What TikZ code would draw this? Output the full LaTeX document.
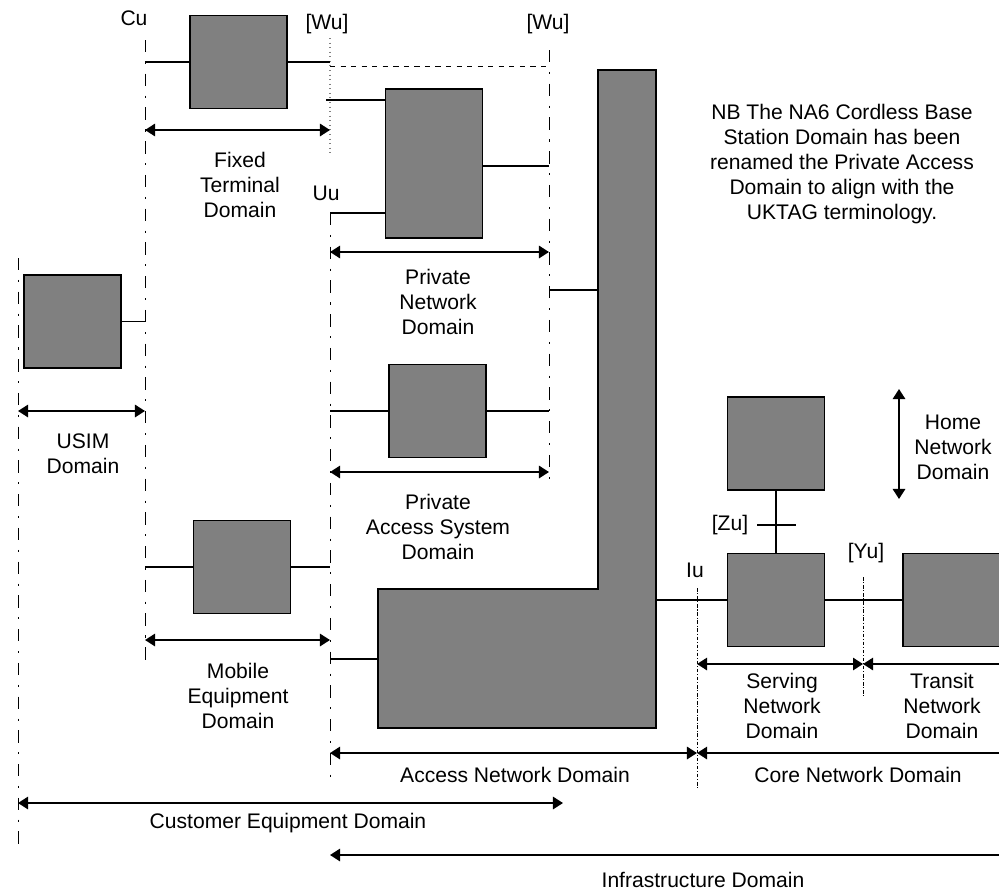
\documentclass[tikz,border=0pt]{standalone}
\usepackage{fontspec}
\setmainfont{Liberation Sans}
\usetikzlibrary{positioning,calc,arrows.meta}
\definecolor{boxgray}{RGB}{128,128,128}
\tikzset{
blk/.style={draw,fill=boxgray,line width=1.1pt,inner sep=0pt,
  minimum width=1.94cm,minimum height=1.86cm},
lnk/.style={line width=0.8pt},
ifc/.style={line width=0.55pt,dash pattern=on 7pt off 5.5pt on 1.2pt off 5.5pt},
ifs/.style={line width=0.4pt,dash pattern=on 2pt off 1pt on 0.6pt off 1pt},
dom/.style={align=center,inner sep=0pt},
tipl/.style={line width=1.1pt},
both/.style={tipl,{Triangle[length=5.7pt,width=7pt]}-{Triangle[length=5.7pt,width=7pt]}},
lft/.style={tipl,{Triangle[length=5.7pt,width=7pt]}-},
}

\begin{document}
\begin{tikzpicture}[x=0.02cm,y=-0.02cm,font=\fontsize{12}{14.2}\selectfont]
	\useasboundingbox (0,0) rectangle (999,893);

	% interface lines
	\coordinate (usimT) at (18,258);  \coordinate (usimB) at (18,848);
	\coordinate (cuT) at (145,40);    \coordinate (cuB) at (145,665);
	\coordinate (wuT) at (330,38);    \coordinate (wuB) at (330,155);
	\coordinate (uuT) at (330,213);   \coordinate (uuB) at (330,780);
	\coordinate (wrT) at (549,50);    \coordinate (wrB) at (549,487);
	\coordinate (iuT) at (697,588);   \coordinate (iuB) at (697,790);
	\coordinate (yuT) at (863,577);   \coordinate (yuB) at (863,698);
	\coordinate (eR) at (1000,0);

	\draw[ifc] (usimT) -- (usimB) (cuT) -- (cuB) (uuT) -- (uuB) (wrT) -- (wrB);
	\draw[gray,dotted,line width=0.6pt] (wuT) -- (wuB);
	\draw[ifs] (iuT) -- (iuB) (yuT) -- (yuB);
	\coordinate (wuH) at (330,66);
	\draw[dashed,line width=0.5pt] (wuH) -- (wuH -| wrT);

	\node (cu) at (134,18) {Cu};
	\node (wu1) at (327,24) {[Wu]};
	\node (wu2) at (548,24) {[Wu]};
	\node (uu) at (326,193) {Uu};
	\node (iu) at (695,570) {Iu};
	\node (yu) at (866,553) {[Yu]};
	\node (zu) at (730,525) {[Zu]};

	% boxes
	\node[blk] (fixterm) at (238.5,62) {};
	\node[blk,minimum height=2.98cm] (privnet) at (434,163.5) {};
	\node[blk] (usim) at (72.5,321.5) {};
	\node[blk] (privacc) at (437.5,411) {};
	\node[blk] (mobeq) at (242,567) {};
	\node[blk] (home) at (776,443.5) {};
	\node[blk] (serving) at (776,600) {};
	\node[blk,minimum width=2.1cm] (transit) at (955.5,600) {};

	\coordinate (accIn) at (378,589);
	\coordinate (accTL) at (598,70);
	\coordinate (accBR) at (656,728);
	\draw[fill=boxgray,line width=1.1pt] (accIn) -- (accIn -| accTL) -- (accTL)
		-- (accTL -| accBR) -- (accBR) -- (accBR -| accIn) -- cycle;

	% links
	\coordinate (pn1) at (326,100);
	\coordinate (pn3) at (549,166);
	\coordinate (ac1) at (549,290);
	\coordinate (ac2) at (330,659);
	\draw[lnk] (cuT |- fixterm) -- (fixterm) -- (wuT |- fixterm);
	\draw[lnk] (pn1) -- (pn1 -| privnet.west);
	\draw[lnk] (uuT) -- (uuT -| privnet.west);
	\draw[lnk] (privnet.east |- pn3) -- (pn3);
	\draw[lnk] (usim) -- (cuT |- usim);
	\draw[lnk] (uuT |- privacc) -- (privacc) -- (wrT |- privacc);
	\draw[lnk] (cuT |- mobeq) -- (mobeq) -- (uuT |- mobeq);
	\draw[lnk] (ac1) -- (ac1 -| accTL);
	\draw[lnk] (ac2) -- (ac2 -| accIn);
	\draw[lnk] (accBR |- serving) -- (serving) -- (transit);
	\draw[lnk] (home) -- (serving);
	\coordinate (zuk) at (776,525);
	\draw[lnk] (zuk) ++(-19,0) -- ++(39,0);

	% domain spans
	\coordinate (rFix) at (0,130);
	\coordinate (rPN) at (0,252);
	\coordinate (rUS) at (0,411);
	\coordinate (rPA) at (0,472);
	\coordinate (rME) at (0,640);
	\coordinate (rSN) at (0,664);
	\coordinate (rAN) at (0,753);
	\coordinate (rCE) at (0,803);
	\coordinate (rIN) at (0,855);
	\coordinate (ceEnd) at (563,803);
	\coordinate (hnT) at (899,389);
	\coordinate (hnB) at (899,499);
	\draw[both] (cuT |- rFix) -- (wuT |- rFix);
	\draw[both] (uuT |- rPN) -- (wrT |- rPN);
	\draw[both] (usimT |- rUS) -- (cuT |- rUS);
	\draw[both] (uuT |- rPA) -- (wrT |- rPA);
	\draw[both] (cuT |- rME) -- (uuT |- rME);
	\draw[both] (iuT |- rSN) -- (yuT |- rSN);
	\draw[lft] (yuT |- rSN) -- (eR |- rSN);
	\draw[both] (uuT |- rAN) -- (iuT |- rAN);
	\draw[lft] (iuT |- rAN) -- (eR |- rAN);
	\draw[both] (usimT |- rCE) -- (ceEnd);
	\draw[lft] (uuT |- rIN) -- (eR |- rIN);
	\draw[both] (hnT) -- (hnB);

	\node[dom] (fixtermD) at (240,185) {Fixed\\Terminal\\Domain};
	\node[dom] (privnetD) at (438,302) {Private\\Network\\Domain};
	\node[dom] (privaccD) at (438,527) {Private\\Access System\\Domain};
	\node[dom] (usimD) at (83,454) {USIM\\Domain};
	\node[dom] (mobeqD) at (238,696) {Mobile\\Equipment\\Domain};
	\node[dom] (servingD) at (782,706) {Serving\\Network\\Domain};
	\node[dom] (transitD) at (942,706) {Transit\\Network\\Domain};
	\node[dom] (homeD) at (953,447) {Home\\Network\\Domain};
	\node[dom] (accessD) at (515,775) {Access Network Domain};
	\node[dom] (coreD) at (858,775) {Core Network Domain};
	\node[dom] (custD) at (288,823) {Customer Equipment Domain};
	\node[dom] (infraD) at (703,880) {Infrastructure Domain};
	\node[dom] (nb) at (842,164) {NB The NA6 Cordless Base\\Station Domain has been\\renamed the Private Access\\Domain to align with the\\UKTAG terminology.};
\end{tikzpicture}
\end{document}
